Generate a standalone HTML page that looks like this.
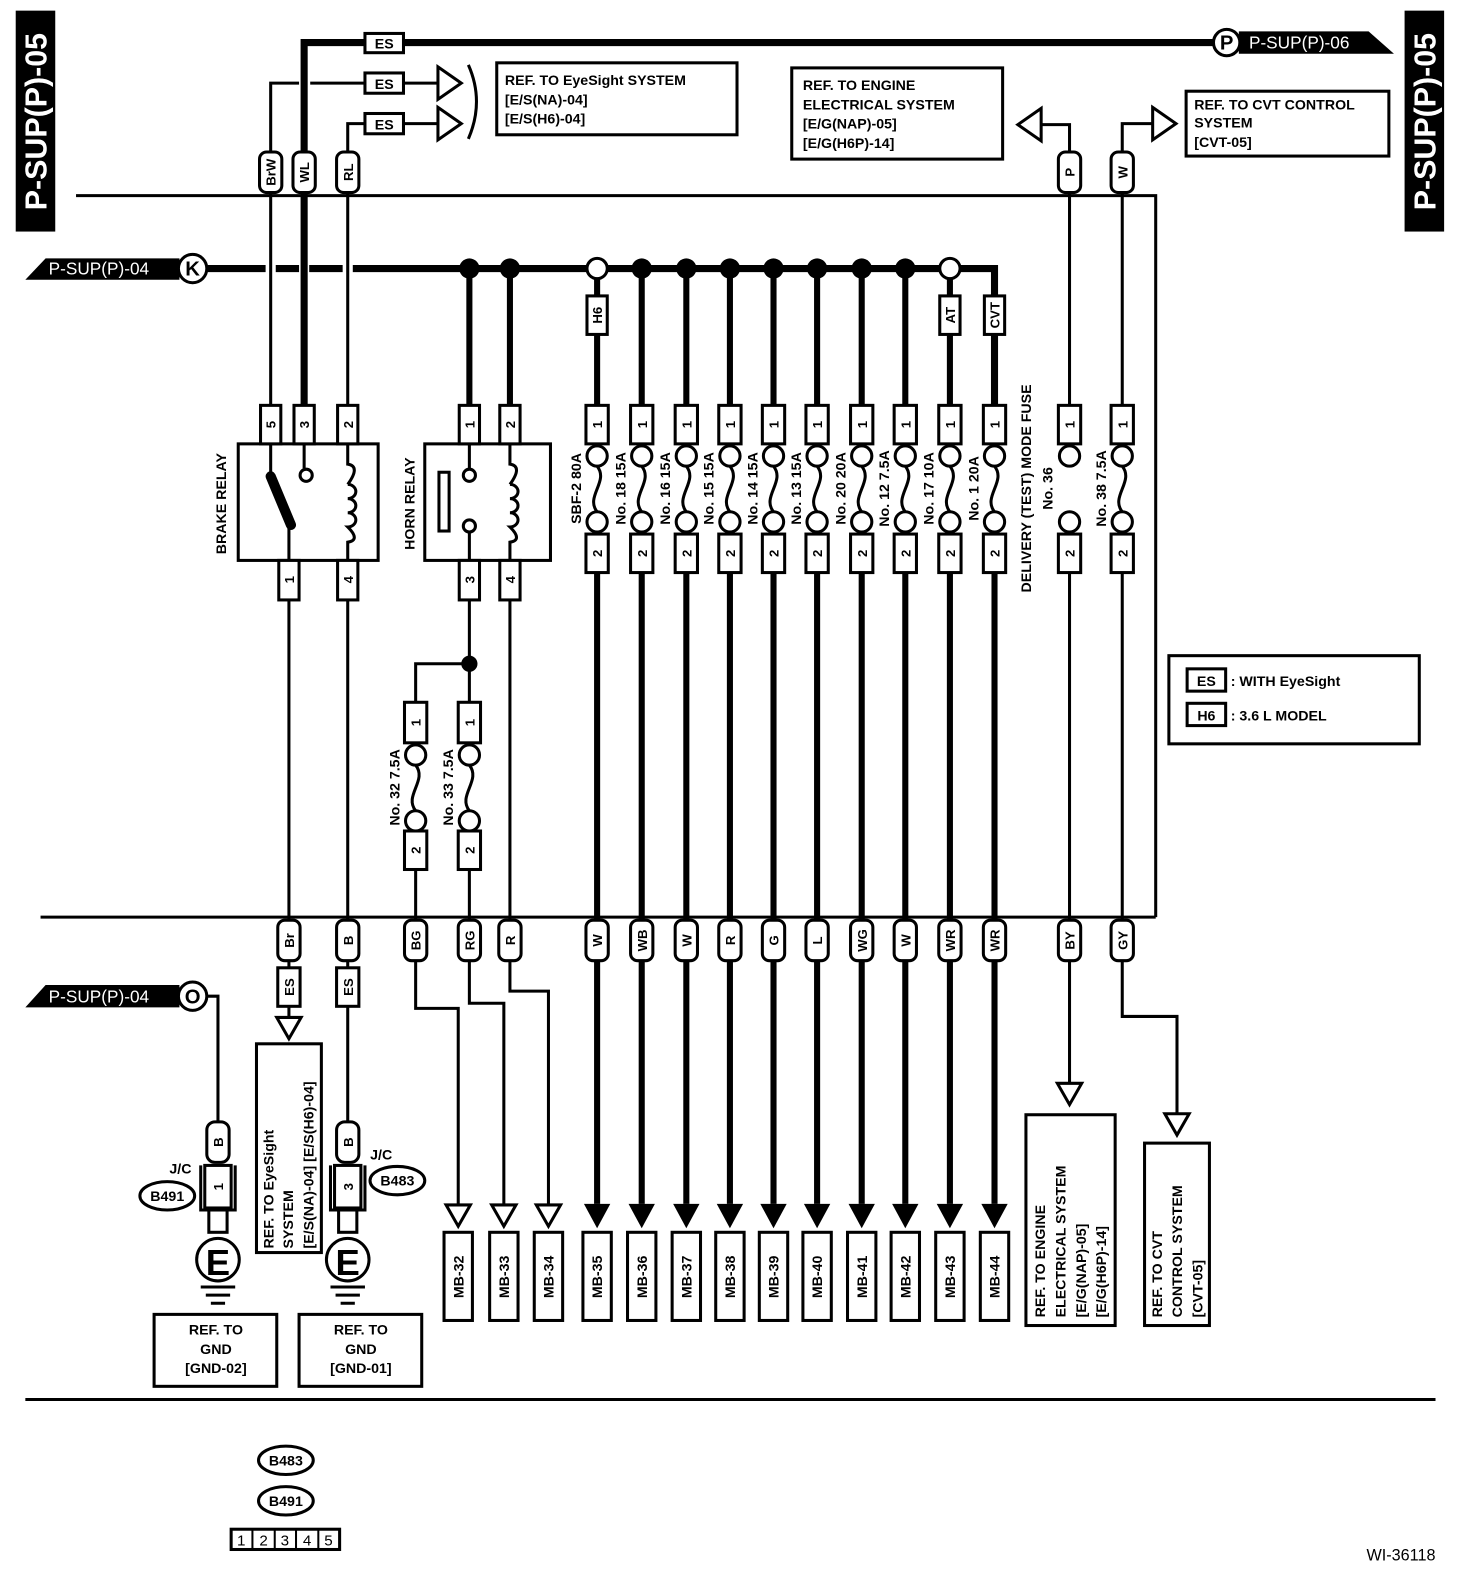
<!DOCTYPE html>
<html><head><meta charset="utf-8"><style>
html,body{margin:0;padding:0;background:#fff;}
svg{display:block;}
text{font-family:"Liberation Sans",Arial,sans-serif;font-weight:bold;fill:#000;}
.s{font-size:14px;}
.p{font-size:13px;}
.p text{dominant-baseline:auto;}
.w{fill:#fff;}
</style></head><body>
<svg width="1472" height="1588" viewBox="0 0 1452 1567" preserveAspectRatio="none" xmlns="http://www.w3.org/2000/svg">
<defs>
<g id="fz"><circle cx="0" cy="0" r="10" fill="#fff" stroke="#000" stroke-width="3"/><circle cx="0" cy="65" r="10" fill="#fff" stroke="#000" stroke-width="3"/><path d="M0,10 C12,25 -12,40 0,55" fill="none" stroke="#000" stroke-width="3"/></g>
<g id="fz2"><circle cx="0" cy="0" r="10" fill="#fff" stroke="#000" stroke-width="3"/><circle cx="0" cy="65" r="10" fill="#fff" stroke="#000" stroke-width="3"/></g>
<path id="ta" d="M-13,0 L13,0 L0,24 Z" fill="#000"/>
<path id="to" d="M-12,1 L12,1 L0,22 Z" fill="#fff" stroke="#000" stroke-width="3"/>
</defs>
<g fill="none" stroke="#000">
<rect x="16" y="11" width="38" height="217" fill="#000"/>
<rect x="1386" y="11" width="38" height="217" fill="#000"/>
<path d="M75,193 H1140 V905 M40,905 H1140" stroke-width="3"/>
<path d="M25,1381 H1416" stroke-width="3"/>
<path d="M300,400 V42 H1200" stroke-width="7"/>
<path d="M267,400 V82 H295 M306,82 H432 M343,400 V122 H432" stroke-width="3"/>
<path d="M432,66 L455,82 L432,98 Z M432,106 L455,122 L432,138 Z" fill="#fff" stroke-width="3"/>
<path d="M462,64 Q478,100 462,137" stroke-width="3"/>
<path d="M1027,123 H1055 V400 M1107,400 V122 H1137" stroke-width="3"/>
<path d="M1027,107 L1004,123 L1027,139 Z M1137,106 L1160,122 L1137,138 Z" fill="#fff" stroke-width="3"/>
<path d="M205,265 H262 M272,265 H295 M305,265 H338 M348,265 H981 V400" stroke-width="7"/>
<path d="M463,265 V400 M503,265 V400 M589,265 V400 M633,265 V400 M677,265 V400 M720,265 V400 M763,265 V400 M806,265 V400 M850,265 V400 M893,265 V400 M937,265 V400" stroke-width="6"/>
<g fill="#000" stroke="none"><circle cx="463" cy="265" r="10"/><circle cx="503" cy="265" r="10"/><circle cx="633" cy="265" r="10"/><circle cx="677" cy="265" r="10"/><circle cx="720" cy="265" r="10"/><circle cx="763" cy="265" r="10"/><circle cx="806" cy="265" r="10"/><circle cx="850" cy="265" r="10"/><circle cx="893" cy="265" r="10"/><circle cx="463" cy="655" r="8"/></g>
<circle cx="589" cy="265" r="10" fill="#fff" stroke-width="3"/><circle cx="937" cy="265" r="10" fill="#fff" stroke-width="3"/>
<path d="M589,565 V1188 M633,565 V1188 M677,565 V1188 M720,565 V1188 M763,565 V1188 M806,565 V1188 M850,565 V1188 M893,565 V1188 M937,565 V1188 M981,565 V1188" stroke-width="6"/>
<path d="M285,592 V1003 M343,592 V1107 M463,592 V693 M463,655 H410 V693 M410,858 V995 H452 V1188 M463,858 V990 H497 V1188 M503,592 V978 H541 V1188 M1055,565 V1068 M1107,565 V1003 H1161 V1098" stroke-width="3"/>
<path d="M205,983 H215 V1107" stroke-width="3"/>
<rect x="235" y="438" width="138" height="115" stroke-width="3"/>
<rect x="419" y="438" width="124" height="115" stroke-width="3"/>
<path d="M267,438 V470 M300,438 V462 M285,517 V553 M343,438 V458 Q356,460 343,478 M343,478 A8,7 0 1,1 343,492 A8,7 0 1,1 343,506 A8,7 0 1,1 343,520 Q356,533 343,535 V553" stroke-width="3"/>
<path d="M267,470 L287,518" stroke-width="10" stroke-linecap="round"/>
<circle cx="302" cy="469" r="6" fill="#fff" stroke-width="3"/>
<path d="M463,438 V462 M463,525 V553 M503,438 V458 Q516,460 503,478 M503,478 A8,7 0 1,1 503,492 A8,7 0 1,1 503,506 A8,7 0 1,1 503,520 Q516,533 503,535 V553" stroke-width="3"/>
<circle cx="463" cy="469" r="6" fill="#fff" stroke-width="3"/><circle cx="463" cy="519" r="6" fill="#fff" stroke-width="3"/>
<rect x="433" y="466" width="10" height="58" stroke-width="3"/>
<rect x="490" y="62" width="237" height="71" stroke-width="3"/>
<rect x="781" y="67" width="208" height="90" stroke-width="3"/>
<rect x="1170" y="90" width="200" height="64" stroke-width="3"/>
<rect x="1153" y="647" width="247" height="87" stroke-width="3"/>
<rect x="1171" y="660" width="38" height="22" stroke-width="3"/>
<rect x="1171" y="694" width="38" height="22" stroke-width="3"/>
<rect x="253" y="1030" width="64" height="206" stroke-width="3"/>
<rect x="1012" y="1100" width="88" height="208" stroke-width="3"/>
<rect x="1129" y="1128" width="64" height="180" stroke-width="3"/>
<rect x="152" y="1297" width="121" height="71" stroke-width="3"/>
<rect x="295" y="1297" width="121" height="71" stroke-width="3"/>
</g>
<text class="w" transform="translate(46,120) rotate(-90)" text-anchor="middle" font-size="30">P-SUP(P)-05</text>
<text class="w" transform="translate(1416,120) rotate(-90)" text-anchor="middle" font-size="30">P-SUP(P)-05</text>
<path d="M1222,31 H1350 L1375,53 H1222 Z" fill="#000"/>
<circle cx="1210" cy="42" r="13" fill="#fff" stroke="#000" stroke-width="3"/>
<text x="1210" y="49" text-anchor="middle" font-size="20">P</text>
<text class="w" x="1232" y="48" font-size="17" style="font-weight:normal">P-SUP(P)-06</text>
<path d="M45,255 H177 V276 H25 Z" fill="#000"/>
<circle cx="190" cy="265" r="14" fill="#fff" stroke="#000" stroke-width="3"/>
<text x="190" y="272" text-anchor="middle" font-size="20">K</text>
<text class="w" x="48" y="271" font-size="17" style="font-weight:normal">P-SUP(P)-04</text>
<path d="M45,972 H177 V994 H25 Z" fill="#000"/>
<circle cx="190" cy="983" r="14" fill="#fff" stroke="#000" stroke-width="3"/>
<text x="190" y="990" text-anchor="middle" font-size="20">O</text>
<text class="w" x="48" y="989" font-size="17" style="font-weight:normal">P-SUP(P)-04</text>
<g stroke="#000" stroke-width="3" fill="#fff">
<rect x="360" y="33" width="38" height="19"/><rect x="360" y="72" width="38" height="20"/><rect x="360" y="112" width="38" height="20"/>
</g>
<text class="s" x="379" y="48" text-anchor="middle">ES</text><text class="s" x="379" y="88" text-anchor="middle">ES</text><text class="s" x="379" y="128" text-anchor="middle">ES</text>
<text class="s" x="498" y="84">REF. TO EyeSight SYSTEM</text><text class="s" x="498" y="103">[E/S(NA)-04]</text><text class="s" x="498" y="122">[E/S(H6)-04]</text>
<text class="s" x="792" y="89">REF. TO ENGINE</text><text class="s" x="792" y="108">ELECTRICAL SYSTEM</text><text class="s" x="792" y="127">[E/G(NAP)-05]</text><text class="s" x="792" y="146">[E/G(H6P)-14]</text>
<text class="s" x="1178" y="108">REF. TO CVT CONTROL</text><text class="s" x="1178" y="126">SYSTEM</text><text class="s" x="1178" y="145">[CVT-05]</text>
<text class="s" x="1190" y="677" text-anchor="middle">ES</text><text class="s" x="1214" y="677">: WITH EyeSight</text>
<text class="s" x="1190" y="711" text-anchor="middle">H6</text><text class="s" x="1214" y="711">: 3.6 L MODEL</text>
<g stroke="#000" stroke-width="3" fill="#fff">
<rect x="256" y="150" width="22" height="40" rx="7"/><rect x="289" y="150" width="22" height="40" rx="7"/><rect x="332" y="150" width="22" height="40" rx="7"/><rect x="1044" y="150" width="22" height="40" rx="7"/><rect x="1096" y="150" width="22" height="40" rx="7"/>
</g>
<g class="p">
<text transform="translate(272,170) rotate(-90)" text-anchor="middle">BrW</text>
<text transform="translate(305,170) rotate(-90)" text-anchor="middle">WL</text>
<text transform="translate(348,170) rotate(-90)" text-anchor="middle">RL</text>
<text transform="translate(1060,170) rotate(-90)" text-anchor="middle">P</text>
<text transform="translate(1112,170) rotate(-90)" text-anchor="middle">W</text>
</g>
<g stroke="#000" stroke-width="3" fill="#fff">
<rect x="579" y="292" width="20" height="38"/><rect x="927" y="292" width="20" height="38"/><rect x="971" y="292" width="20" height="38"/>
</g>
<text class="p" transform="translate(594,311) rotate(-90)" text-anchor="middle">H6</text>
<text class="p" transform="translate(942,311) rotate(-90)" text-anchor="middle">AT</text>
<text class="p" transform="translate(986,311) rotate(-90)" text-anchor="middle" font-size="12">CVT</text>
<use href="#fz" x="589" y="450"/><use href="#fz" x="633" y="450"/><use href="#fz" x="677" y="450"/><use href="#fz" x="720" y="450"/><use href="#fz" x="763" y="450"/><use href="#fz" x="806" y="450"/><use href="#fz" x="850" y="450"/><use href="#fz" x="893" y="450"/><use href="#fz" x="937" y="450"/><use href="#fz" x="981" y="450"/><use href="#fz2" x="1055" y="450"/><use href="#fz" x="1107" y="450"/>
<use href="#fz" x="410" y="745"/><use href="#fz" x="463" y="745"/>
<g stroke="#000" stroke-width="3" fill="#fff">
<rect x="257" y="400" width="20" height="38"/><rect x="290" y="400" width="20" height="38"/><rect x="333" y="400" width="20" height="38"/>
<rect x="275" y="553" width="20" height="39"/><rect x="333" y="553" width="20" height="39"/>
<rect x="453" y="400" width="20" height="38"/><rect x="493" y="400" width="20" height="38"/>
<rect x="453" y="553" width="20" height="39"/><rect x="493" y="553" width="20" height="39"/>
<rect x="578" y="400" width="22" height="38"/><rect x="622" y="400" width="22" height="38"/><rect x="666" y="400" width="22" height="38"/><rect x="709" y="400" width="22" height="38"/><rect x="752" y="400" width="22" height="38"/><rect x="795" y="400" width="22" height="38"/><rect x="839" y="400" width="22" height="38"/><rect x="882" y="400" width="22" height="38"/><rect x="926" y="400" width="22" height="38"/><rect x="970" y="400" width="22" height="38"/><rect x="1044" y="400" width="22" height="38"/><rect x="1096" y="400" width="22" height="38"/>
<rect x="578" y="527" width="22" height="38"/><rect x="622" y="527" width="22" height="38"/><rect x="666" y="527" width="22" height="38"/><rect x="709" y="527" width="22" height="38"/><rect x="752" y="527" width="22" height="38"/><rect x="795" y="527" width="22" height="38"/><rect x="839" y="527" width="22" height="38"/><rect x="882" y="527" width="22" height="38"/><rect x="926" y="527" width="22" height="38"/><rect x="970" y="527" width="22" height="38"/><rect x="1044" y="527" width="22" height="38"/><rect x="1096" y="527" width="22" height="38"/>
<rect x="399" y="693" width="22" height="40"/><rect x="452" y="693" width="22" height="40"/>
<rect x="399" y="820" width="22" height="38"/><rect x="452" y="820" width="22" height="38"/>
</g>
<g class="p">
<text transform="translate(272,419) rotate(-90)" text-anchor="middle">5</text>
<text transform="translate(305,419) rotate(-90)" text-anchor="middle">3</text>
<text transform="translate(348,419) rotate(-90)" text-anchor="middle">2</text>
<text transform="translate(290,572) rotate(-90)" text-anchor="middle">1</text>
<text transform="translate(348,572) rotate(-90)" text-anchor="middle">4</text>
<text transform="translate(468,419) rotate(-90)" text-anchor="middle">1</text>
<text transform="translate(508,419) rotate(-90)" text-anchor="middle">2</text>
<text transform="translate(468,572) rotate(-90)" text-anchor="middle">3</text>
<text transform="translate(508,572) rotate(-90)" text-anchor="middle">4</text>
<text transform="translate(594,419) rotate(-90)" text-anchor="middle">1</text><text transform="translate(638,419) rotate(-90)" text-anchor="middle">1</text><text transform="translate(682,419) rotate(-90)" text-anchor="middle">1</text><text transform="translate(725,419) rotate(-90)" text-anchor="middle">1</text><text transform="translate(768,419) rotate(-90)" text-anchor="middle">1</text><text transform="translate(811,419) rotate(-90)" text-anchor="middle">1</text><text transform="translate(855,419) rotate(-90)" text-anchor="middle">1</text><text transform="translate(898,419) rotate(-90)" text-anchor="middle">1</text><text transform="translate(942,419) rotate(-90)" text-anchor="middle">1</text><text transform="translate(986,419) rotate(-90)" text-anchor="middle">1</text><text transform="translate(1060,419) rotate(-90)" text-anchor="middle">1</text><text transform="translate(1112,419) rotate(-90)" text-anchor="middle">1</text>
<text transform="translate(594,546) rotate(-90)" text-anchor="middle">2</text><text transform="translate(638,546) rotate(-90)" text-anchor="middle">2</text><text transform="translate(682,546) rotate(-90)" text-anchor="middle">2</text><text transform="translate(725,546) rotate(-90)" text-anchor="middle">2</text><text transform="translate(768,546) rotate(-90)" text-anchor="middle">2</text><text transform="translate(811,546) rotate(-90)" text-anchor="middle">2</text><text transform="translate(855,546) rotate(-90)" text-anchor="middle">2</text><text transform="translate(898,546) rotate(-90)" text-anchor="middle">2</text><text transform="translate(942,546) rotate(-90)" text-anchor="middle">2</text><text transform="translate(986,546) rotate(-90)" text-anchor="middle">2</text><text transform="translate(1060,546) rotate(-90)" text-anchor="middle">2</text><text transform="translate(1112,546) rotate(-90)" text-anchor="middle">2</text>
<text transform="translate(415,713) rotate(-90)" text-anchor="middle">1</text><text transform="translate(468,713) rotate(-90)" text-anchor="middle">1</text>
<text transform="translate(415,839) rotate(-90)" text-anchor="middle">2</text><text transform="translate(468,839) rotate(-90)" text-anchor="middle">2</text>
</g>
<g class="s">
<text transform="translate(223,497) rotate(-90)" text-anchor="middle">BRAKE RELAY</text>
<text transform="translate(409,497) rotate(-90)" text-anchor="middle">HORN RELAY</text>
<text transform="translate(573,482) rotate(-90)" text-anchor="middle">SBF-2 80A</text>
<text transform="translate(617,482) rotate(-90)" text-anchor="middle">No. 18 15A</text>
<text transform="translate(661,482) rotate(-90)" text-anchor="middle">No. 16 15A</text>
<text transform="translate(704,482) rotate(-90)" text-anchor="middle">No. 15 15A</text>
<text transform="translate(747,482) rotate(-90)" text-anchor="middle">No. 14 15A</text>
<text transform="translate(790,482) rotate(-90)" text-anchor="middle">No. 13 15A</text>
<text transform="translate(834,482) rotate(-90)" text-anchor="middle">No. 20 20A</text>
<text transform="translate(877,482) rotate(-90)" text-anchor="middle">No. 12 7.5A</text>
<text transform="translate(921,482) rotate(-90)" text-anchor="middle">No. 17 10A</text>
<text transform="translate(965,482) rotate(-90)" text-anchor="middle">No. 1 20A</text>
<text transform="translate(1017,482) rotate(-90)" text-anchor="middle">DELIVERY (TEST) MODE FUSE</text>
<text transform="translate(1038,482) rotate(-90)" text-anchor="middle">No. 36</text>
<text transform="translate(1091,482) rotate(-90)" text-anchor="middle">No. 38 7.5A</text>
<text transform="translate(394,777) rotate(-90)" text-anchor="middle">No. 32 7.5A</text>
<text transform="translate(447,777) rotate(-90)" text-anchor="middle">No. 33 7.5A</text>
</g>
<g stroke="#000" stroke-width="3" fill="#fff">
<rect x="274" y="908" width="22" height="40" rx="7"/><rect x="332" y="908" width="22" height="40" rx="7"/><rect x="399" y="908" width="22" height="40" rx="7"/><rect x="452" y="908" width="22" height="40" rx="7"/><rect x="492" y="908" width="22" height="40" rx="7"/>
<rect x="578" y="908" width="22" height="40" rx="7"/><rect x="622" y="908" width="22" height="40" rx="7"/><rect x="666" y="908" width="22" height="40" rx="7"/><rect x="709" y="908" width="22" height="40" rx="7"/><rect x="752" y="908" width="22" height="40" rx="7"/><rect x="795" y="908" width="22" height="40" rx="7"/><rect x="839" y="908" width="22" height="40" rx="7"/><rect x="882" y="908" width="22" height="40" rx="7"/><rect x="926" y="908" width="22" height="40" rx="7"/><rect x="970" y="908" width="22" height="40" rx="7"/><rect x="1044" y="908" width="22" height="40" rx="7"/><rect x="1096" y="908" width="22" height="40" rx="7"/>
<rect x="274" y="955" width="22" height="38"/><rect x="332" y="955" width="22" height="38"/>
</g>
<g class="p">
<text transform="translate(290,928) rotate(-90)" text-anchor="middle">Br</text>
<text transform="translate(348,928) rotate(-90)" text-anchor="middle">B</text>
<text transform="translate(415,928) rotate(-90)" text-anchor="middle">BG</text>
<text transform="translate(468,928) rotate(-90)" text-anchor="middle">RG</text>
<text transform="translate(508,928) rotate(-90)" text-anchor="middle">R</text>
<text transform="translate(594,928) rotate(-90)" text-anchor="middle">W</text>
<text transform="translate(638,928) rotate(-90)" text-anchor="middle">WB</text>
<text transform="translate(682,928) rotate(-90)" text-anchor="middle">W</text>
<text transform="translate(725,928) rotate(-90)" text-anchor="middle">R</text>
<text transform="translate(768,928) rotate(-90)" text-anchor="middle">G</text>
<text transform="translate(811,928) rotate(-90)" text-anchor="middle">L</text>
<text transform="translate(855,928) rotate(-90)" text-anchor="middle">WG</text>
<text transform="translate(898,928) rotate(-90)" text-anchor="middle">W</text>
<text transform="translate(942,928) rotate(-90)" text-anchor="middle">WR</text>
<text transform="translate(986,928) rotate(-90)" text-anchor="middle">WR</text>
<text transform="translate(1060,928) rotate(-90)" text-anchor="middle">BY</text>
<text transform="translate(1112,928) rotate(-90)" text-anchor="middle">GY</text>
<text transform="translate(290,974) rotate(-90)" text-anchor="middle">ES</text>
<text transform="translate(348,974) rotate(-90)" text-anchor="middle">ES</text>
</g>
<use href="#to" x="285" y="1003"/><use href="#to" x="452" y="1188"/><use href="#to" x="497" y="1188"/><use href="#to" x="541" y="1188"/><use href="#to" x="1055" y="1068"/><use href="#to" x="1161" y="1098"/>
<use href="#ta" x="589" y="1188"/><use href="#ta" x="633" y="1188"/><use href="#ta" x="677" y="1188"/><use href="#ta" x="720" y="1188"/><use href="#ta" x="763" y="1188"/><use href="#ta" x="806" y="1188"/><use href="#ta" x="850" y="1188"/><use href="#ta" x="893" y="1188"/><use href="#ta" x="937" y="1188"/><use href="#ta" x="981" y="1188"/>
<g stroke="#000" stroke-width="3" fill="#fff">
<rect x="438" y="1216" width="28" height="87"/><rect x="483" y="1216" width="28" height="87"/><rect x="527" y="1216" width="28" height="87"/><rect x="575" y="1216" width="28" height="87"/><rect x="619" y="1216" width="28" height="87"/><rect x="663" y="1216" width="28" height="87"/><rect x="706" y="1216" width="28" height="87"/><rect x="749" y="1216" width="28" height="87"/><rect x="792" y="1216" width="28" height="87"/><rect x="836" y="1216" width="28" height="87"/><rect x="879" y="1216" width="28" height="87"/><rect x="923" y="1216" width="28" height="87"/><rect x="967" y="1216" width="28" height="87"/>
</g>
<g class="s">
<text transform="translate(457,1260) rotate(-90)" text-anchor="middle">MB-32</text>
<text transform="translate(502,1260) rotate(-90)" text-anchor="middle">MB-33</text>
<text transform="translate(546,1260) rotate(-90)" text-anchor="middle">MB-34</text>
<text transform="translate(594,1260) rotate(-90)" text-anchor="middle">MB-35</text>
<text transform="translate(638,1260) rotate(-90)" text-anchor="middle">MB-36</text>
<text transform="translate(682,1260) rotate(-90)" text-anchor="middle">MB-37</text>
<text transform="translate(725,1260) rotate(-90)" text-anchor="middle">MB-38</text>
<text transform="translate(768,1260) rotate(-90)" text-anchor="middle">MB-39</text>
<text transform="translate(811,1260) rotate(-90)" text-anchor="middle">MB-40</text>
<text transform="translate(855,1260) rotate(-90)" text-anchor="middle">MB-41</text>
<text transform="translate(898,1260) rotate(-90)" text-anchor="middle">MB-42</text>
<text transform="translate(942,1260) rotate(-90)" text-anchor="middle">MB-43</text>
<text transform="translate(986,1260) rotate(-90)" text-anchor="middle">MB-44</text>
<text transform="translate(270,1232) rotate(-90)">REF. TO EyeSight</text>
<text transform="translate(289,1232) rotate(-90)">SYSTEM</text>
<text transform="translate(309,1232) rotate(-90)">[E/S(NA)-04] [E/S(H6)-04]</text>
<text transform="translate(1031,1300) rotate(-90)">REF. TO ENGINE</text>
<text transform="translate(1051,1300) rotate(-90)">ELECTRICAL SYSTEM</text>
<text transform="translate(1071,1300) rotate(-90)">[E/G(NAP)-05]</text>
<text transform="translate(1091,1300) rotate(-90)">[E/G(H6P)-14]</text>
<text transform="translate(1146,1300) rotate(-90)">REF. TO CVT</text>
<text transform="translate(1166,1300) rotate(-90)">CONTROL SYSTEM</text>
<text transform="translate(1186,1300) rotate(-90)">[CVT-05]</text>
<text x="213" y="1317" text-anchor="middle">REF. TO</text><text x="213" y="1336" text-anchor="middle">GND</text><text x="213" y="1355" text-anchor="middle">[GND-02]</text>
<text x="356" y="1317" text-anchor="middle">REF. TO</text><text x="356" y="1336" text-anchor="middle">GND</text><text x="356" y="1355" text-anchor="middle">[GND-01]</text>
</g>
<g stroke="#000" stroke-width="3" fill="#fff">
<rect x="204" y="1107" width="22" height="40" rx="8"/><rect x="332" y="1107" width="22" height="40" rx="8"/>
<rect x="202" y="1150" width="26" height="42"/><rect x="330" y="1150" width="26" height="42"/>
<path d="M198,1150 V1194 H232 V1150 M326,1150 V1194 H360 V1150" fill="none"/>
<rect x="206" y="1194" width="18" height="22"/><rect x="334" y="1194" width="18" height="22"/>
<circle cx="215" cy="1243" r="21"/><circle cx="343" cy="1243" r="21"/>
<path d="M198,1270 H232 M203,1278 H227 M208,1286 H222 M326,1270 H360 M331,1278 H355 M336,1286 H350" fill="none"/>
<ellipse cx="165" cy="1180" rx="27" ry="14"/><ellipse cx="392" cy="1165" rx="27" ry="14"/>
<ellipse cx="282" cy="1441" rx="27" ry="14"/><ellipse cx="282" cy="1481" rx="27" ry="14"/>
<rect x="228" y="1509" width="107" height="20"/>
<path d="M249,1509 V1529 M271,1509 V1529 M292,1509 V1529 M314,1509 V1529" fill="none" stroke-width="2"/>
</g>
<text x="215" y="1258" text-anchor="middle" font-size="36">E</text><text x="343" y="1258" text-anchor="middle" font-size="36">E</text>
<g class="p">
<text transform="translate(220,1127) rotate(-90)" text-anchor="middle">B</text>
<text transform="translate(348,1127) rotate(-90)" text-anchor="middle">B</text>
<text transform="translate(220,1171) rotate(-90)" text-anchor="middle">1</text>
<text transform="translate(348,1171) rotate(-90)" text-anchor="middle">3</text>
</g>
<g class="s">
<text x="178" y="1158" text-anchor="middle">J/C</text><text x="376" y="1144" text-anchor="middle">J/C</text>
<text x="165" y="1185" text-anchor="middle">B491</text><text x="392" y="1170" text-anchor="middle">B483</text>
<text x="282" y="1446" text-anchor="middle">B483</text><text x="282" y="1486" text-anchor="middle">B491</text>
</g>
<g font-size="15">
<text x="238" y="1525" text-anchor="middle" style="font-weight:normal">1</text><text x="260" y="1525" text-anchor="middle" style="font-weight:normal">2</text><text x="281" y="1525" text-anchor="middle" style="font-weight:normal">3</text><text x="303" y="1525" text-anchor="middle" style="font-weight:normal">4</text><text x="324" y="1525" text-anchor="middle" style="font-weight:normal">5</text>
</g>
<text x="1416" y="1540" text-anchor="end" font-size="16" style="font-weight:normal">WI-36118</text>
</svg>
</body></html>
